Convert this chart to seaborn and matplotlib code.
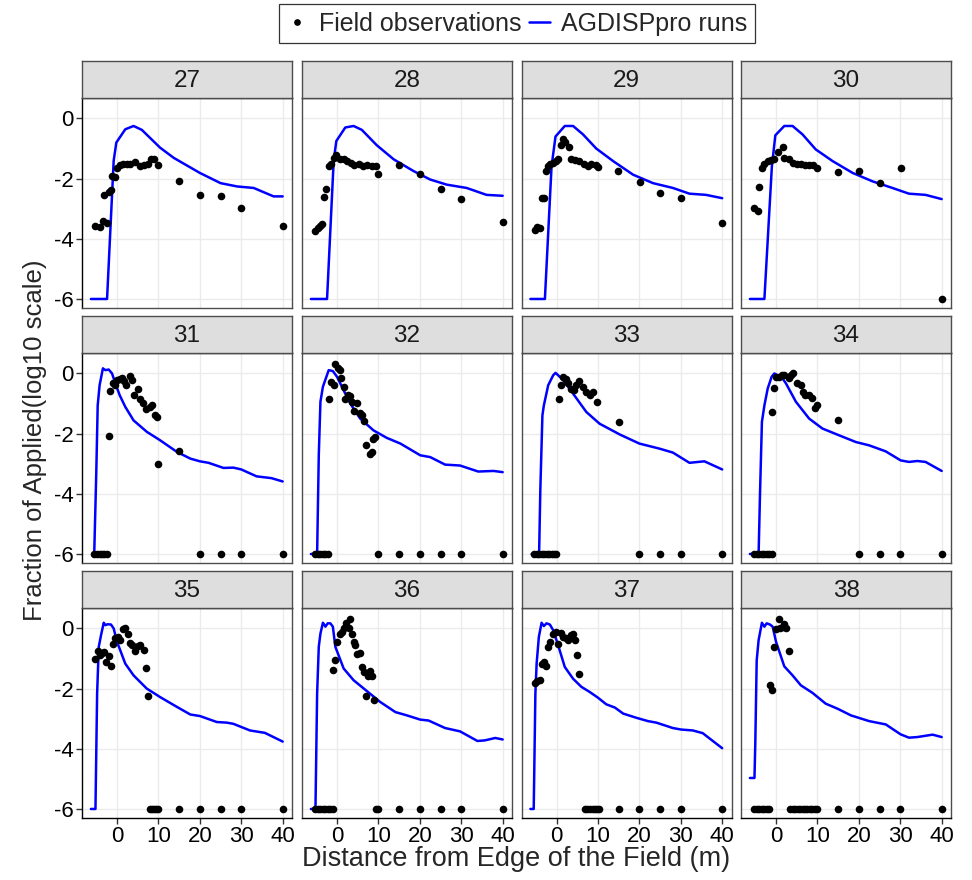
import matplotlib
matplotlib.use("Agg")
import matplotlib.pyplot as plt
from matplotlib.lines import Line2D
import seaborn as sns
import pandas as pd

# ---------------- data ----------------
panels = [27, 28, 29, 30, 31, 32, 33, 34, 35, 36, 37, 38]

# Field observations (distance m, log10 fraction of applied)
obs_x_27 = [-5.2, -4.0, -3.45, -2.4, -3.05, -2.0, -1.45, -1.2, -0.56, 0.0, 0.64, 1.45, 2.4, 3.2, 4.4, 5.5, 6.4, 7.6, 8.3, 9.0, 10.0, 14.9, 20.1, 25.1, 30.0, 40.0]
obs_y_27 = [-3.56, -3.6, -3.4, -3.49, -2.54, -2.46, -2.37, -1.92, -1.96, -1.64, -1.56, -1.53, -1.5, -1.53, -1.45, -1.59, -1.56, -1.53, -1.36, -1.36, -1.56, -2.09, -2.54, -2.59, -2.98, -3.56]
obs_x_28 = [-5.2, -4.7, -4.2, -3.6, -3.05, -2.6, -2.0, -1.45, -0.8, -0.16, 0.64, 1.6, 2.4, 3.4, 4.2, 5.2, 6.3, 7.2, 8.4, 9.5, 10.0, 15.0, 20.1, 25.0, 30.0, 40.0]
obs_y_28 = [-3.73, -3.65, -3.58, -3.52, -2.61, -2.35, -1.59, -1.5, -1.31, -1.2, -1.36, -1.36, -1.42, -1.47, -1.56, -1.53, -1.59, -1.56, -1.59, -1.59, -1.84, -1.56, -1.83, -2.35, -2.68, -3.43]
obs_x_29 = [-5.2, -4.7, -4.0, -3.6, -3.05, -2.6, -2.0, -1.45, -0.8, -0.16, 0.4, 1.0, 1.45, 2.0, 3.05, 3.4, 4.4, 5.5, 6.6, 7.6, 8.4, 9.5, 10.0, 14.9, 20.1, 25.1, 30.0, 40.0]
obs_y_29 = [-3.71, -3.62, -3.65, -2.63, -2.63, -1.73, -1.59, -1.53, -1.47, -1.42, -1.34, -0.89, -0.67, -0.78, -0.94, -1.34, -1.39, -1.42, -1.5, -1.59, -1.53, -1.56, -1.6, -1.73, -2.11, -2.48, -2.65, -3.49]
obs_x_30 = [-5.2, -4.4, -4.0, -3.4, -2.8, -2.0, -1.2, -0.4, 0.4, 1.6, 2.0, 3.05, 4.0, 5.0, 6.0, 7.1, 8.0, 9.0, 10.0, 15.0, 20.1, 25.0, 30.1, 40.0]
obs_y_30 = [-2.98, -3.09, -2.28, -1.64, -1.5, -1.42, -1.39, -1.36, -1.12, -0.94, -1.31, -1.36, -1.47, -1.5, -1.53, -1.56, -1.56, -1.56, -1.64, -1.79, -1.75, -2.16, -1.64, -6.0]
obs_x_31 = [-5.5, -4.8, -4.2, -3.6, -3.05, -2.4, -2.0, -1.6, -1.0, -0.56, 0.0, 0.64, 1.2, 1.6, 2.2, 3.05, 3.6, 4.0, 5.0, 5.6, 6.3, 7.1, 8.0, 8.4, 9.2, 9.6, 10.0, 15.0, 20.0, 25.0, 30.0, 40.0]
obs_y_31 = [-6, -6, -6, -6, -6, -6, -2.09, -0.59, -0.33, -0.39, -0.22, -0.17, -0.14, -0.26, -0.37, -0.08, -0.22, -0.72, -0.52, -0.86, -0.97, -1.19, -1.11, -1.06, -1.39, -1.44, -3.0, -2.58, -6, -6, -6, -6]
obs_x_32 = [-5.2, -4.7, -4.0, -3.4, -2.8, -2.2, -2.0, -1.45, -0.8, -0.4, 0.16, 0.64, 1.05, 1.6, 2.0, 2.65, 3.2, 3.6, 4.0, 4.8, 5.5, 6.0, 6.4, 7.1, 8.0, 8.4, 8.8, 9.2, 10.0, 15.0, 20.0, 25.0, 30.0, 40.0]
obs_y_32 = [-6, -6, -6, -6, -6, -6, -0.86, -0.3, -0.39, 0.33, 0.19, 0.11, -0.14, -0.44, -0.86, -0.7, -0.74, -0.94, -1.26, -0.97, -1.33, -1.37, -1.59, -2.37, -2.67, -2.61, -2.17, -2.11, -6, -6, -6, -6, -6, -6]
obs_x_33 = [-5.5, -4.8, -4.2, -3.6, -3.05, -2.4, -1.8, -1.2, -0.64, -0.16, 0.64, 1.2, 1.6, 2.25, 2.8, 3.4, 4.2, 4.8, 5.5, 6.3, 7.1, 8.0, 8.8, 9.8, 15.0, 20.0, 25.0, 30.0, 40.0]
obs_y_33 = [-6, -6, -6, -6, -6, -6, -6, -6, -6, -6, -0.86, -0.39, -0.11, -0.19, -0.33, -0.5, -0.56, -0.39, -0.26, -0.44, -0.63, -0.72, -0.61, -0.94, -1.61, -6, -6, -6, -6]
obs_x_34 = [-5.2, -4.7, -4.0, -3.4, -2.8, -2.2, -1.6, -1.05, -1.0, -0.4, 0.0, 0.64, 1.45, 2.0, 3.05, 3.6, 4.2, 5.0, 6.0, 6.4, 7.1, 8.0, 8.8, 9.5, 10.0, 15.0, 20.0, 25.0, 30.0, 40.0]
obs_y_34 = [-6, -6, -6, -6, -6, -6, -6, -6, -1.28, -0.48, -0.11, -0.11, -0.06, -0.06, -0.14, -0.06, 0.0, -0.33, -0.39, -0.63, -0.7, -0.72, -0.81, -1.14, -1.06, -1.56, -6, -6, -6, -6]
obs_x_35 = [-5.2, -4.66, -4.0, -3.6, -3.05, -2.57, -2.0, -1.45, -0.96, -0.4, 0.16, 0.8, 1.45, 2.0, 2.6, 3.05, 3.6, 4.4, 5.0, 5.6, 6.4, 7.1, 7.55, 7.9, 8.4, 9.0, 9.5, 10.0, 15.0, 20.0, 25.0, 30.0, 40.0]
obs_y_35 = [-1.03, -0.74, -0.89, -0.83, -0.78, -1.11, -0.92, -1.26, -0.5, -0.33, -0.3, -0.39, -0.03, 0.0, -0.19, -0.48, -0.56, -0.74, -0.59, -0.56, -0.7, -1.3, -2.26, -6, -6, -6, -6, -6, -6, -6, -6, -6, -6]
obs_x_36 = [-5.2, -4.7, -4.0, -3.4, -2.8, -2.2, -1.6, -1.05, -1.0, -0.4, 0.0, 0.64, 1.2, 1.77, 2.25, 2.8, 3.05, 3.6, 4.0, 4.4, 4.8, 5.5, 6.0, 6.4, 7.1, 7.4, 8.0, 8.4, 9.0, 9.5, 10.0, 15.0, 20.0, 25.0, 30.0, 40.0]
obs_y_36 = [-6, -6, -6, -6, -6, -6, -6, -6, -1.39, -1.06, -0.44, -0.19, -0.11, 0.0, 0.19, 0.0, 0.33, -0.19, -0.44, -0.56, -0.86, -0.83, -1.28, -1.44, -2.26, -1.59, -1.41, -1.59, -2.37, -6, -6, -6, -6, -6, -6, -6]
obs_x_37 = [-5.2, -4.66, -4.0, -3.6, -3.05, -2.57, -2.0, -1.45, -0.8, -0.16, 0.4, 1.0, 1.6, 2.25, 2.8, 3.4, 4.0, 4.4, 5.0, 5.5, 6.8, 7.4, 8.0, 8.7, 9.2, 9.8, 10.3, 15.0, 20.0, 25.0, 30.0, 40.0]
obs_y_37 = [-1.81, -1.74, -1.7, -1.19, -1.11, -1.26, -0.61, -0.44, -0.17, -0.11, -0.52, -0.14, -0.3, -0.33, -0.37, -0.22, -0.19, -0.37, -0.87, -1.5, -6, -6, -6, -6, -6, -6, -6, -6, -6, -6, -6, -6]
obs_x_38 = [-5.2, -4.7, -4.0, -3.4, -2.8, -2.2, -1.6, -1.45, -1.0, -0.4, 0.0, 0.64, 0.96, 1.6, 2.0, 2.4, 3.05, 3.4, 4.0, 4.66, 5.2, 5.8, 6.4, 7.1, 7.6, 8.2, 8.8, 9.5, 10.0, 15.0, 20.0, 25.0, 30.0, 40.0]
obs_y_38 = [-6, -6, -6, -6, -6, -6, -6, -1.89, -2.03, -0.63, -0.03, 0.33, 0.0, 0.06, 0.14, 0.0, -0.76, -6, -6, -6, -6, -6, -6, -6, -6, -6, -6, -6, -6, -6, -6, -6, -6, -6]

# AGDISPpro model runs
run_x_27 = [-6.3, -2.4, -0.8, -0.16, 2, 4, 6, 10.4, 13.7, 20, 25, 29, 33, 37.8, 40]
run_y_27 = [-6, -6, -1.4, -0.8, -0.36, -0.25, -0.38, -0.97, -1.31, -1.81, -2.15, -2.26, -2.31, -2.59, -2.59]
run_x_28 = [-6.3, -2.4, -0.8, -0.16, 2, 4, 6, 9.6, 13.7, 18.5, 22.5, 26.5, 31.3, 36.1, 40]
run_y_28 = [-6, -6, -1.4, -0.75, -0.3, -0.25, -0.38, -0.89, -1.36, -1.75, -2.03, -2.2, -2.31, -2.54, -2.57]
run_x_29 = [-6.3, -2.8, -1.2, -0.24, 2, 4, 6.4, 9.6, 13.7, 18.5, 23.3, 28.1, 32.1, 36.1, 40]
run_y_29 = [-6, -6, -1.6, -0.6, -0.25, -0.25, -0.53, -1.0, -1.42, -1.87, -2.15, -2.31, -2.5, -2.54, -2.65]
run_x_30 = [-6.3, -2.8, -1.0, -0.16, 2, 4, 6.4, 9.6, 13.7, 18.5, 23.3, 28.1, 32.1, 36.1, 40]
run_y_30 = [-6, -6, -1.6, -0.56, -0.25, -0.25, -0.53, -1.03, -1.42, -1.81, -2.09, -2.31, -2.5, -2.54, -2.68]
run_x_31 = [-6.0, -5.5, -5.0, -4.66, -4.2, -3.4, -2.8, -2.0, -1.2, -0.4, 0.64, 2.0, 4.0, 7.2, 10.4, 14.5, 17.7, 20, 22.1, 25.7, 28.1, 30, 33.7, 37.3, 40]
run_y_31 = [-6, -6, -3.28, -1.06, -0.39, 0.17, 0.11, 0.13, 0, -0.33, -0.72, -1.11, -1.56, -1.94, -2.22, -2.61, -2.83, -2.92, -2.97, -3.14, -3.13, -3.19, -3.42, -3.48, -3.59]
run_x_32 = [-6.3, -4.8, -4.4, -4.0, -3.4, -2.0, -1.0, 0, 1.6, 3.2, 5.6, 8.8, 12, 15.3, 20.1, 22.5, 26.1, 29.7, 34.1, 37.8, 40]
run_y_32 = [-6, -6, -2.72, -0.94, -0.44, 0.11, 0.08, -0.11, -0.56, -1.0, -1.5, -1.89, -2.14, -2.33, -2.72, -2.78, -3.03, -3.06, -3.26, -3.24, -3.28]
run_x_33 = [-6, -4.2, -3.9, -3.4, -3.05, -2.0, -0.8, -0.24, 0.4, 1.6, 4.0, 7.2, 10.4, 15.3, 20, 24.9, 28.1, 32.1, 35.7, 40]
run_y_33 = [-6, -6, -3.83, -1.39, -1.06, -0.39, -0.06, 0.02, -0.06, -0.22, -0.67, -1.28, -1.67, -2.03, -2.33, -2.5, -2.63, -2.97, -2.92, -3.19]
run_x_34 = [-6.3, -4.2, -3.85, -3.4, -2.8, -2.0, -1.05, -0.4, 0.4, 1.6, 2.4, 4.8, 8.0, 11.2, 15.3, 19.3, 22.5, 26.5, 30.1, 32.1, 34.1, 36.1, 40]
run_y_34 = [-6, -6, -3.94, -1.61, -1.06, -0.5, -0.11, 0, -0.06, -0.17, -0.33, -0.94, -1.5, -1.83, -2.06, -2.28, -2.39, -2.59, -2.89, -2.94, -2.91, -2.94, -3.24]
run_x_35 = [-6.3, -5.2, -4.8, -4.4, -3.85, -3.2, -2.8, -2.25, -1.45, -0.8, 0, 2.0, 4.0, 7.2, 10.4, 14.5, 17.7, 20, 24.1, 26.5, 28.1, 32.1, 35.7, 40]
run_y_35 = [-6, -6, -2.17, -0.61, -0.22, 0.19, 0.11, 0.14, 0.13, 0, -0.44, -1.17, -1.56, -2.0, -2.28, -2.61, -2.86, -2.91, -3.11, -3.13, -3.17, -3.39, -3.47, -3.76]
run_x_36 = [-6.3, -5.2, -4.8, -4.4, -4.0, -3.4, -2.8, -2.25, -1.6, -1.0, -0.4, 1.6, 4.0, 7.2, 10.4, 14.1, 16.9, 20.1, 22.1, 26.1, 29.7, 33.9, 35.7, 38.2, 40]
run_y_36 = [-6, -6, -2.17, -0.61, -0.17, 0.19, 0.06, 0.17, 0.17, 0.06, -0.61, -1.33, -1.72, -2.08, -2.44, -2.78, -2.89, -3.03, -3.06, -3.31, -3.42, -3.74, -3.72, -3.64, -3.69]
run_x_37 = [-6.3, -5.5, -5.1, -4.8, -4.26, -3.6, -3.05, -2.4, -1.6, -0.8, 0.4, 2.0, 4.0, 6.0, 8.0, 10, 12, 14.1, 16.1, 19.3, 22.1, 24.1, 28.1, 30.1, 32.9, 35.3, 40]
run_y_37 = [-6, -6, -2.17, -1.17, -0.28, 0.19, 0.08, 0.17, 0.13, -0.06, -0.56, -1.28, -1.67, -1.94, -2.11, -2.3, -2.52, -2.63, -2.83, -2.97, -3.08, -3.13, -3.31, -3.36, -3.39, -3.48, -3.98]
run_x_38 = [-6.3, -5.2, -5.0, -4.66, -4.2, -3.4, -2.8, -2.25, -1.45, -0.8, 0, 2.0, 4.0, 6.0, 8.8, 12, 14.9, 18.1, 22.5, 26.5, 30.1, 32.1, 34.1, 37.8, 40]
run_y_38 = [-4.97, -4.97, -3.83, -1.06, -0.39, 0.19, 0.06, 0.17, 0.13, 0.06, -0.44, -1.26, -1.56, -1.89, -2.14, -2.5, -2.67, -2.89, -3.08, -3.19, -3.52, -3.63, -3.61, -3.53, -3.61]

x_ticks = [0, 10, 20, 30, 40]
y_ticks = [-6, -4, -2, 0]
x_title = "Distance from Edge of the Field (m)"
y_title = "Fraction of Applied(log10 scale)"
legend_labels = ["Field observations", "AGDISPpro runs"]

# ---------------- tables ----------------
g = globals()
obs_rows, run_rows = [], []
for p in panels:
    for xv, yv in zip(g[f"obs_x_{p}"], g[f"obs_y_{p}"]):
        obs_rows.append((p, xv, yv))
    for xv, yv in zip(g[f"run_x_{p}"], g[f"run_y_{p}"]):
        run_rows.append((p, xv, yv))
obs = pd.DataFrame(obs_rows, columns=["panel", "distance", "value"])
runs = pd.DataFrame(run_rows, columns=["panel", "distance", "value"])

# ---------------- figure ----------------
sns.set_theme(style="white")
plt.rcParams["font.family"] = ["Liberation Sans", "DejaVu Sans"]
plt.rcParams["axes.unicode_minus"] = False

W, H = 972, 880
fig = plt.figure(figsize=(W / 100, H / 100), dpi=100)


def rect(l, t, w, h):
    return [l / W, 1 - (t + h) / H, w / W, h / H]


col_left = [82, 302, 521.5, 741]
row_top = [98, 353, 608]
pw, ph, sh = 210, 210, 37
border = "#4D4D4D"

for i, p in enumerate(panels):
    r, c = divmod(i, 4)
    ax = fig.add_axes(rect(col_left[c], row_top[r], pw, ph))
    ax.set_xlim(-8.45, 42.25)
    ax.set_ylim(-6.3, 0.68)
    ax.set_xticks(x_ticks)
    ax.set_yticks(y_ticks)
    ax.grid(True, color="#EBEBEB", linewidth=1.0)
    ax.set_axisbelow(True)
    sns.lineplot(data=runs[runs.panel == p], x="distance", y="value", ax=ax,
                 color="blue", linewidth=1.8, estimator=None, legend=False)
    sns.scatterplot(data=obs[obs.panel == p], x="distance", y="value", ax=ax,
                    color="black", s=30, linewidth=0, legend=False, zorder=3)
    ax.set_xlabel("")
    ax.set_ylabel("")
    for sp in ax.spines.values():
        sp.set_color(border)
        sp.set_linewidth(1.0)
    ax.spines["top"].set_color("black")
    if c == 0:
        ax.spines["left"].set_color("black")
        ax.set_yticklabels([str(v) for v in y_ticks])
        ax.tick_params(axis="y", left=True, length=4, width=1, color="#333333",
                       labelsize=16, pad=2, labelcolor="black")
    else:
        ax.tick_params(axis="y", left=False, labelleft=False)
    if r == 2:
        ax.spines["bottom"].set_color("black")
        ax.set_xticklabels([str(v) for v in x_ticks])
        ax.tick_params(axis="x", bottom=True, length=4, width=1, color="#333333",
                       labelsize=16, pad=2, labelcolor="black")
    else:
        ax.tick_params(axis="x", bottom=False, labelbottom=False)

    sax = fig.add_axes(rect(col_left[c], row_top[r] - sh, pw, sh))
    sax.set_facecolor("#DEDEDE")
    sax.set_xticks([])
    sax.set_yticks([])
    for sp in sax.spines.values():
        sp.set_color(border)
        sp.set_linewidth(1.0)
    sax.text(0.5, 0.47, str(p), transform=sax.transAxes, ha="center", va="center",
             fontsize=17.5, color="#1A1A1A")

fig.text(516 / W, 1 - 859 / H, x_title, ha="center", va="center", fontsize=19.5)
fig.text(35 / W, 1 - 440 / H, y_title, ha="center", va="center", rotation=90, fontsize=18.5)

handles = [Line2D([], [], marker="o", linestyle="none", color="black", markersize=3.8),
           Line2D([], [], color="blue", linewidth=1.8)]
leg = fig.legend(handles, legend_labels, loc="center", bbox_to_anchor=(517 / W, 1 - 24 / H),
                 ncol=2, frameon=True, fancybox=False, fontsize=18, handlelength=0.85,
                 handletextpad=0.45, columnspacing=0.3, borderpad=0.3, borderaxespad=0)
leg.get_frame().set_edgecolor("black")
leg.get_frame().set_linewidth(0.9)

fig.savefig("out.png", dpi=100)
